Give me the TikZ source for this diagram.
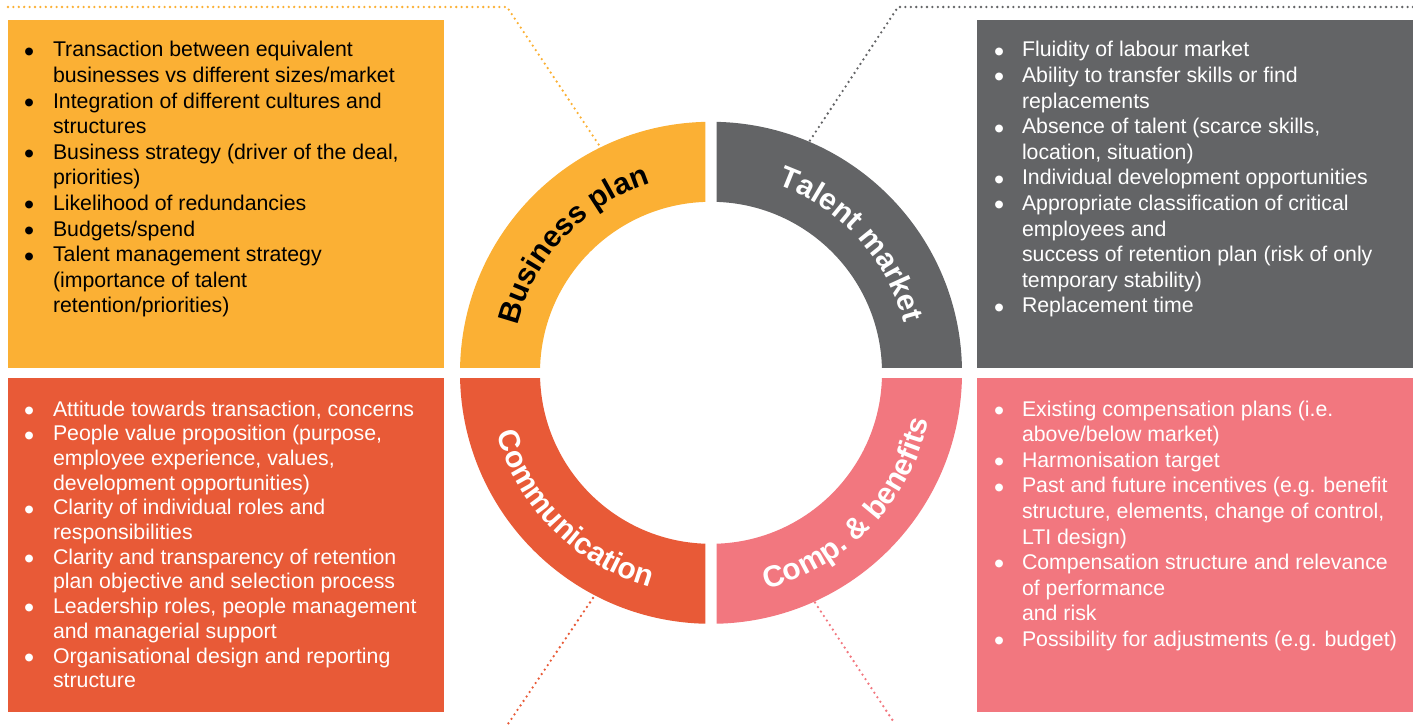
\documentclass[tikz,border=0pt]{standalone}
\usepackage{fontspec}
\setmainfont{Liberation Sans}
\usetikzlibrary{decorations.text,calc}
\definecolor{cOrange}{HTML}{FBB034}
\definecolor{cGray}{HTML}{636466}
\definecolor{cRed}{HTML}{E85A37}
\definecolor{cPink}{HTML}{F2777F}
\newcommand{\bl}{\raisebox{-4.3pt}{\scalebox{1.35}{\textbullet}}}
\begin{document}
\begin{tikzpicture}[x=1pt,y=1pt,
  box/.style={rectangle, inner sep=0pt, outer sep=0pt, minimum width=436pt, anchor=north west},
  txt/.style={inner sep=0pt, outer sep=0pt, anchor=base west},
  dots/.style={line width=2.6pt, line cap=round, dash pattern=on 0pt off 5.4pt},
  ringlabel/.style={decorate}]
\useasboundingbox (0,0) rectangle (1413,724);

% boxes
\node[box, fill=cOrange, minimum height=347.5pt] (boxTL) at (8,704) {};
\node[box, fill=cGray, minimum height=347.5pt] (boxTR) at (977,704) {};
\node[box, fill=cRed, minimum height=334pt] (boxBL) at (8,346) {};
\node[box, fill=cPink, minimum height=334pt] (boxBR) at (977,346) {};

% connectors
\coordinate (bpA) at (8,717);
\coordinate (bpB) at (507,717);
\coordinate (bpC) at (599,579);
\coordinate (tmA) at (1413,717);
\coordinate (tmB) at (898,717);
\coordinate (tmC) at (807,579);
\coordinate (coA) at (593,126);
\coordinate (coB) at (508,0);
\coordinate (cbA) at (812,126);
\coordinate (cbB) at (895,0);
\draw[dots, cOrange] (bpA) -- (bpB) -- (bpC);
\draw[dots, cGray] (tmA) -- (tmB) -- (tmC);
\draw[dots, cRed] (coA) -- (coB);
\draw[dots, cPink] (cbA) -- (cbB);

% ring
\coordinate (C) at (711,351.2);
\begin{scope}
  \clip (0,356.7) rectangle (705.3,724);
  \fill[cOrange, even odd rule] (C) circle[radius=251pt] (C) circle[radius=171pt];
\end{scope}
\begin{scope}
  \clip (716.7,356.7) rectangle (1413,724);
  \fill[cGray, even odd rule] (C) circle[radius=251pt] (C) circle[radius=171pt];
\end{scope}
\begin{scope}
  \clip (0,0) rectangle (705.3,345.7);
  \fill[cRed, even odd rule] (C) circle[radius=251pt] (C) circle[radius=171pt];
\end{scope}
\begin{scope}
  \clip (716.7,0) rectangle (1413,345.7);
  \fill[cPink, even odd rule] (C) circle[radius=251pt] (C) circle[radius=171pt];
\end{scope}

% ring labels
\path[ringlabel, decoration={text along path, text align=center,
  text={|\color{black}\bfseries\fontsize{30}{32}\selectfont|Business plan}}]
  ($(C)+(182:199pt)$) arc[start angle=182, end angle=92, radius=199pt];
\path[ringlabel, decoration={text along path, text align=center,
  text={|\color{white}\bfseries\fontsize{30}{32}\selectfont|Talent market}}]
  ($(C)+(87:199pt)$) arc[start angle=87, end angle=-2, radius=199pt];
\path[ringlabel, decoration={text along path, text align=center,
  text={|\color{white}\bfseries\fontsize{30}{32}\selectfont|Communication}}]
  ($(C)+(180:223pt)$) arc[start angle=180, end angle=270, radius=223pt];
\path[ringlabel, decoration={text along path, text align=center,
  text={|\color{white}\bfseries\fontsize{30}{32}\selectfont|Comp. {\&} benefits}}]
  ($(C)+(271:223pt)$) arc[start angle=271, end angle=361, radius=223pt];

% texts
\node[txt, text=black, font=\fontsize{21.3}{25.6}\selectfont] (tTL) at (24,667) {%
\begin{tabular}[t]{@{}p{29pt}@{}l@{}}
\bl & Transaction between equivalent\\
    & businesses vs different sizes/market\\
\bl & Integration of different cultures and\\
    & structures\\
\bl & Business strategy (driver of the deal,\\
    & priorities)\\
\bl & Likelihood of redundancies\\
\bl & Budgets/spend\\
\bl & Talent management strategy\\
    & (importance of talent\\
    & retention/priorities)
\end{tabular}};

\node[txt, text=white, font=\fontsize{21.3}{25.6}\selectfont] (tTR) at (994,667) {%
\begin{tabular}[t]{@{}p{28pt}@{}l@{}}
\bl & Fluidity of labour market\\
\bl & Ability to transfer skills or find\\
    & replacements\\
\bl & Absence of talent (scarce skills,\\
    & location, situation)\\
\bl & Individual development opportunities\\
\bl & Appropriate classification of critical\\
    & employees and\\
    & success of retention plan (risk of only\\
    & temporary stability)\\
\bl & Replacement time
\end{tabular}};

\node[txt, text=white, font=\fontsize{21.3}{24.7}\selectfont] (tBL) at (24,308) {%
\begin{tabular}[t]{@{}p{29pt}@{}l@{}}
\bl & Attitude towards transaction, concerns\\
\bl & People value proposition (purpose,\\
    & employee experience, values,\\
    & development opportunities)\\
\bl & Clarity of individual roles and\\
    & responsibilities\\
\bl & Clarity and transparency of retention\\
    & plan objective and selection process\\
\bl & Leadership roles, people management\\
    & and managerial support\\
\bl & Organisational design and reporting\\
    & structure
\end{tabular}};

\node[txt, text=white, font=\fontsize{21.3}{25.6}\selectfont] (tBR) at (994,308) {%
\begin{tabular}[t]{@{}p{28pt}@{}l@{}}
\bl & Existing compensation plans (i.e.\\
    & above/below market)\\
\bl & Harmonisation target\\
\bl & Past and future incentives (e.g. benefit\\
    & structure, elements, change of control,\\
    & LTI design)\\
\bl & Compensation structure and relevance\\
    & of performance\\
    & and risk\\
\bl & Possibility for adjustments (e.g. budget)
\end{tabular}};
\end{tikzpicture}
\end{document}
